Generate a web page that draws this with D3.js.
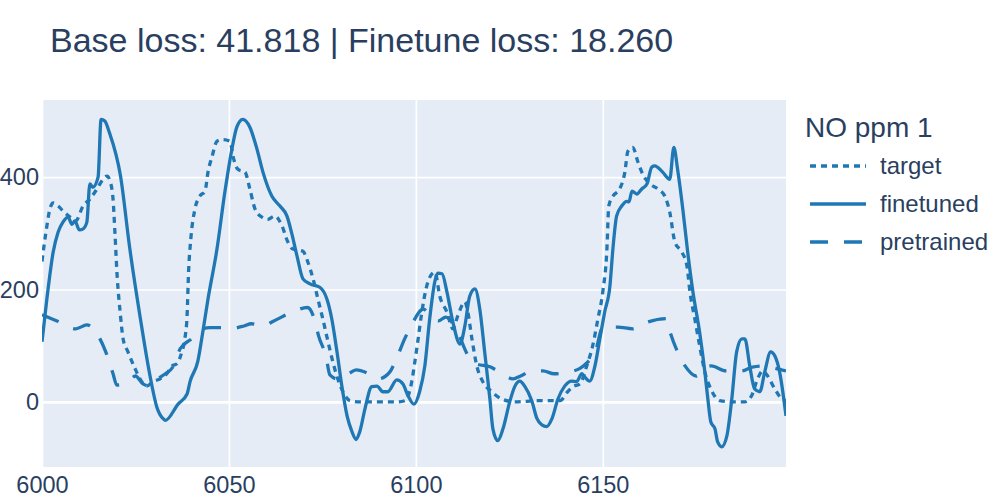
<!DOCTYPE html>
<html>
<head>
<meta charset="utf-8">
<script src="https://cdn.jsdelivr.net/npm/d3@7"></script>
<style>
  html, body { margin: 0; padding: 0; background: #fff; }
  svg text { font-family: "Liberation Sans", Arial, sans-serif; fill: #2a3f5f; }
</style>
</head>
<body>
<svg id="chart" width="1000" height="500"></svg>
<script>
const titleText = "Base loss: 41.818 | Finetune loss: 18.260";
const legendTitle = "NO ppm 1";
const seriesNames = ["target", "finetuned", "pretrained"];
const xTicks = [6000, 6050, 6100, 6150];
const yTicks = [0, 200, 400];

const targetX = [6000,6001.3,6002.1,6003,6004.3,6005.6,6007.5,6009,6011,6012.8,6014.7,6016.3,6017.4,6018.2,6019,6019.5,6020.1,6020.9,6021.7,6023,6024.9,6026.2,6028,6029.7,6031.6,6033.4,6034.8,6036.1,6037.4,6038.2,6038.8,6039.2,6039.8,6040.9,6042.2,6043.6,6044.4,6045.5,6046.8,6048.4,6050.3,6051.1,6052.4,6054.3,6055.6,6057,6058.8,6060.4,6062.3,6064.2,6065.8,6067.1,6069.8,6071.1,6072.5,6073.8,6075.1,6076.5,6077.8,6079.1,6080.5,6082.4,6085,6090,6095,6097,6098.9,6099.7,6100.5,6101.6,6102.9,6104.3,6105.1,6106.4,6108.3,6109.9,6111.2,6113.1,6113.9,6115,6116.3,6117.9,6120.3,6123,6126.5,6132.6,6138.5,6140.6,6142,6143.9,6145.7,6147.3,6148.7,6150,6151.1,6151.6,6152.7,6154.5,6155.9,6156.7,6158,6159.4,6160.7,6162.6,6164.7,6166.6,6167.9,6169.3,6171.1,6172.5,6173.3,6174.6,6175.9,6177.3,6179.1,6181.3,6184.5,6188,6189.8,6191.4,6192.8,6194.1,6196,6197.9,6199];
const targetY = [250,313,343,354,349,340,329,322,349,361,379,396,402,393,361,302,224,160,112,89,59,41,28,36,41,50,64,68,89,112,153,231,290,343,366,375,409,437,464,467,464,437,414,409,379,343,329,325,331,313,284,272,268,249,219,183,148,107,71,41,18,2,0,0,0,2,36,70,107,160,206,228,231,188,160,130,153,178,160,112,64,36,18,5,0,2,2,18,27,32,64,100,148,196,272,349,366,379,409,446,453,427,405,388,379,366,338,284,267,242,196,148,100,53,20,2,0,0,11,41,55,46,23,5,2];

const finetunedX = [6000,6001.3,6003,6004.3,6005.6,6007,6008,6008.8,6010,6011,6012,6012.8,6013.6,6015,6015.8,6016.8,6018,6021,6023.5,6026.2,6028.9,6030.7,6032.4,6033,6036.4,6038.8,6039.6,6041.7,6043,6044.4,6046.8,6048.9,6050.8,6052.1,6053.7,6055.6,6057.5,6059.1,6061.5,6063.6,6065.5,6066.8,6068.2,6069.8,6071.7,6074.3,6076.2,6077.5,6078.9,6080.2,6081.6,6082.9,6084,6085,6086.4,6088.2,6089.6,6091.2,6092.5,6094.9,6096.5,6097.9,6099.5,6101,6102.4,6103.7,6105.1,6105.9,6107,6108.3,6109.9,6111.8,6113.1,6114.4,6115.8,6117.1,6118.4,6119.8,6120.6,6121.9,6123.3,6125.1,6126.5,6127.8,6129.1,6131,6132.4,6133.7,6135,6136.4,6138,6139.8,6141.7,6143,6144.4,6145.2,6146.5,6147.9,6149.2,6150.5,6151.9,6152.7,6153.7,6155.1,6156.4,6157,6157.8,6159.1,6160.4,6161.8,6163.1,6163.9,6166,6167.9,6169,6170,6171.4,6172.7,6174.1,6175.9,6177.3,6178.1,6178.9,6180,6180.7,6181.8,6183.2,6184.5,6185.8,6187.2,6188,6189.3,6190.6,6192,6193.3,6194.9,6196,6197.3,6199];
const finetunedY = [107,183,267,302,320,329,316,322,306,308,320,388,382,400,503,500,480,402,272,153,46,-9,-30,-33,-4,14,36,73,124,183,272,373,450,489,503,489,450,409,366,349,331,300,260,219,210,204,183,148,89,28,-25,-53,-67,-53,-12,27,28,18,18,39,32,11,-4,18,64,148,215,229,228,196,142,103,135,188,201,165,89,5,-48,-69,-48,0,28,37,28,2,-30,-41,-44,-30,5,28,37,36,50,44,37,64,112,160,206,272,331,349,357,356,375,370,379,388,418,420,409,396,453,414,343,267,196,124,53,5,-36,-48,-71,-80,-60,5,89,112,112,64,23,18,53,89,82,53,-25];

const pretrainedX = [6000,6004,6009,6012,6015,6017,6019,6020,6023,6025,6027,6029,6031,6033,6035,6037,6040,6043,6045,6048,6050,6054,6056,6059,6062,6067,6071,6073,6074,6076,6077,6079,6082,6084,6088,6090,6093,6095,6097,6099,6102,6104,6106,6108,6111,6114,6116,6120,6123,6126,6128,6131,6134,6137,6140,6144,6146,6148,6150,6154,6158,6162,6167,6168,6170,6172,6175,6177,6179,6183,6187,6190,6193,6196,6199];
const pretrainedY = [155,144,130,137,118,90,50,30,36,46,32,28,41,50,62,95,112,130,132,132,130,135,139,135,144,160,168,144,117,80,48,41,50,57,48,41,53,80,112,139,165,153,144,151,126,82,68,62,50,41,46,55,55,50,52,60,71,89,133,133,130,142,148,124,89,64,46,59,64,55,55,62,64,60,55];

const W = 1000, H = 500;
const plot = { left: 42, right: 786, top: 100, bottom: 467 };
const color = "#1f77b4";
const FONT = "Liberation Sans, Arial, sans-serif";
const styles = {
  target: { dash: "6,5" },
  finetuned: { dash: null },
  pretrained: { dash: "18,16" }
};

const svg = d3.select("#chart");
svg.append("rect").attr("width", W).attr("height", H).attr("fill", "#fff");

const x = d3.scaleLinear().domain([6000, 6199]).range([plot.left, plot.right]);
const y = d3.scaleLinear().domain([-116, 537.4]).range([plot.bottom, plot.top]);

svg.append("rect")
  .attr("x", plot.left).attr("y", plot.top)
  .attr("width", plot.right - plot.left).attr("height", plot.bottom - plot.top)
  .attr("fill", "#E5ECF6");

// grid via axes
const xGrid = d3.axisBottom(x).tickValues(xTicks).tickSize(-(plot.bottom - plot.top)).tickFormat("");
svg.append("g").attr("transform", `translate(0,${plot.bottom})`).call(xGrid)
  .call(g => g.select(".domain").remove())
  .call(g => g.selectAll("line").attr("stroke", "#fff").attr("stroke-width", 1.7));
const yGrid = d3.axisLeft(y).tickValues(yTicks).tickSize(-(plot.right - plot.left)).tickFormat("");
svg.append("g").attr("transform", `translate(${plot.left},0)`).call(yGrid)
  .call(g => g.select(".domain").remove())
  .call(g => g.selectAll("line").attr("stroke", "#fff").attr("stroke-width", d => d === 0 ? 2.8 : 1.7));

// tick labels
const xAxis = d3.axisBottom(x).tickValues(xTicks).tickSize(0).tickPadding(9).tickFormat(d3.format("d"));
svg.append("g").attr("transform", `translate(0,${plot.bottom})`).call(xAxis)
  .call(g => g.select(".domain").remove())
  .call(g => g.selectAll("text").attr("font-size", 23.5).attr("fill", "#2a3f5f")
    .attr("font-family", FONT).attr("dy", "0.71em"));
const yAxis = d3.axisLeft(y).tickValues(yTicks).tickSize(0).tickPadding(3).tickFormat(d3.format("d"));
svg.append("g").attr("transform", `translate(${plot.left},0)`).call(yAxis)
  .call(g => g.select(".domain").remove())
  .call(g => g.selectAll("text").attr("font-size", 23.5).attr("fill", "#2a3f5f")
    .attr("font-family", FONT));

// clip
svg.append("clipPath").attr("id", "clip").append("rect")
  .attr("x", plot.left).attr("y", plot.top)
  .attr("width", plot.right - plot.left).attr("height", plot.bottom - plot.top);

const line = d3.line().x(d => x(d[0])).y(d => y(d[1])).curve(d3.curveMonotoneX);
const data = {
  target: d3.zip(targetX, targetY),
  finetuned: d3.zip(finetunedX, finetunedY),
  pretrained: d3.zip(pretrainedX, pretrainedY)
};
const gLines = svg.append("g").attr("clip-path", "url(#clip)");
["pretrained", "target", "finetuned"].forEach(name => {
  gLines.append("path").datum(data[name])
    .attr("d", line)
    .attr("fill", "none")
    .attr("stroke", color)
    .attr("stroke-width", 3.3)
    .attr("stroke-linejoin", "round")
    .attr("stroke-dasharray", styles[name].dash);
});

// title
svg.append("text").attr("x", 50).attr("y", 52)
  .attr("font-size", 34).text(titleText);

// legend
const lg = svg.append("g");
lg.append("text").attr("x", 805).attr("y", 137).attr("font-size", 28).text(legendTitle);
seriesNames.forEach((name, i) => {
  const cy = 166 + i * 38;
  lg.append("line").attr("x1", 810).attr("x2", 866).attr("y1", cy).attr("y2", cy)
    .attr("stroke", color).attr("stroke-width", 3.3)
    .attr("stroke-dasharray", styles[name].dash);
  lg.append("text").attr("x", 880).attr("y", cy).attr("dy", "0.35em")
    .attr("font-size", 24).text(name);
});
</script>
</body>
</html>
